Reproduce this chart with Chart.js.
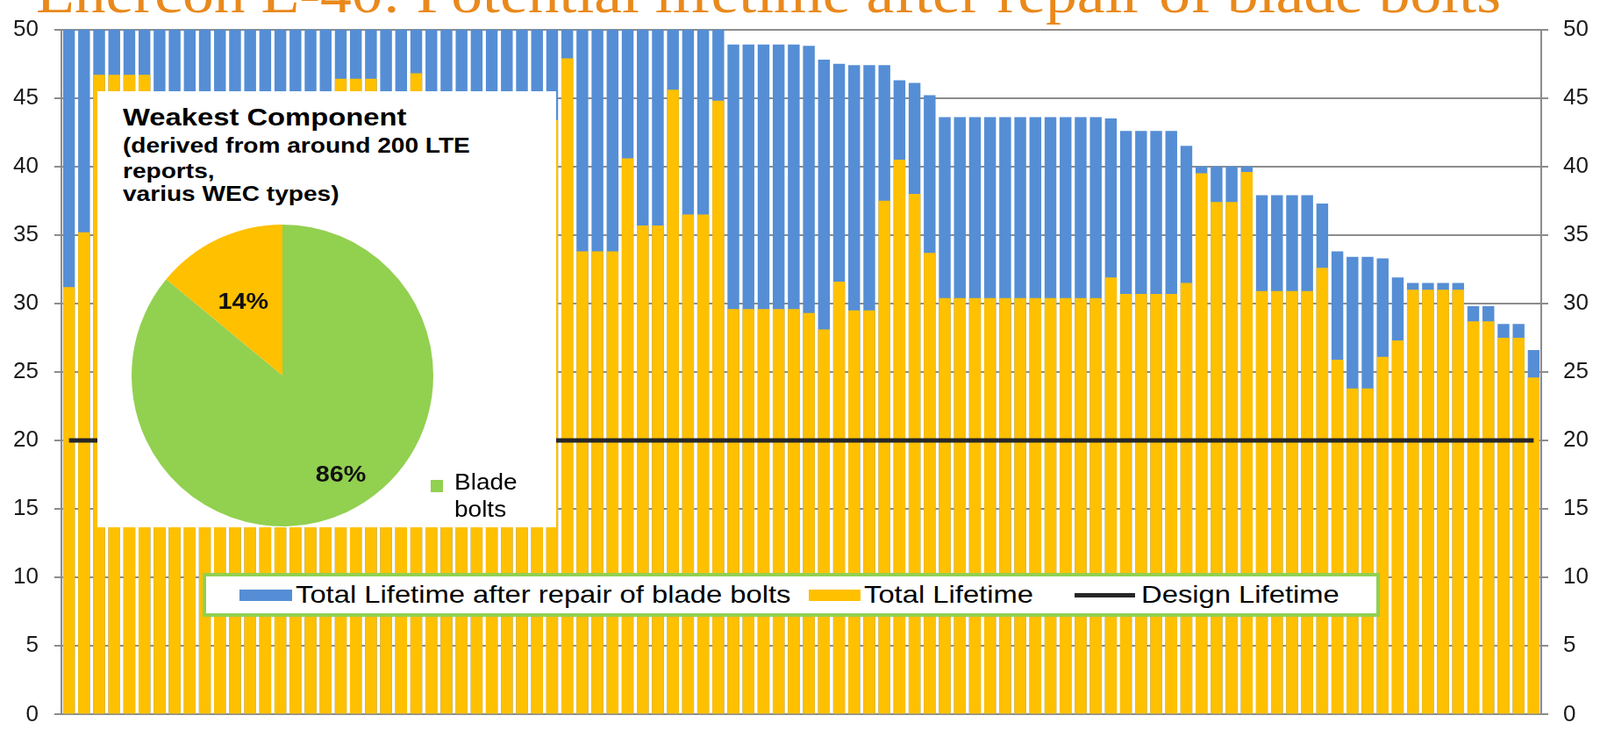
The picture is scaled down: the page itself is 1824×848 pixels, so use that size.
<!DOCTYPE html>
<html lang="en">
<head>
<meta charset="UTF-8">
<title>Enercon E-40: Potential lifetime after repair of blade bolts</title>
<style>
  html, body { margin: 0; padding: 0; background: #fff; overflow: hidden; }
  #wrap { position: relative; width: 1824px; height: 848px; }
  #main { position: absolute; left: 0; top: 0; }

  #title {
    position: absolute; left: 41px; top: -39px;
    font-family: "Liberation Serif", serif; font-size: 64px; line-height: 64px;
    color: #E9891C; white-space: nowrap; transform-origin: 0 0; z-index: 3;
  }

  /* white inset with the pie */
  #inset {
    position: absolute; left: 111px; top: 104px; width: 523px; height: 496px;
    background: #fff; z-index: 2;
  }
  #insetText {
    position: absolute; left: 29px; top: 14px; white-space: nowrap;
    font-family: "Liberation Sans", Arial, sans-serif; font-weight: bold; color: #000;
    transform: scaleX(1.17); transform-origin: 0 0;
  }
  #insetText .big { font-size: 28px; line-height: 32px; }
  #insetText .small { font-size: 24px; line-height: 26px; }
  #insetText .first { line-height: 32px; }
  #pie { position: absolute; left: 39px; top: 151px; }
  #pieLegend {
    position: absolute; left: 380px; top: 430px;
    font-family: "Liberation Sans", Arial, sans-serif; font-size: 25px; line-height: 31px; color: #000;
  }
  #pieLegend .sw { position: absolute; left: 0; top: 13px; width: 14px; height: 14px; background: #92D050; }
  #pieLegend .txt { position: absolute; left: 27px; top: 0; transform: scaleX(1.12); transform-origin: 0 0; }

  /* legend of the bar chart */
  #legend {
    position: absolute; left: 231px; top: 653px; width: 1342px; height: 50px;
    box-sizing: border-box; border: 4px solid #92D050; background: #fff; z-index: 2;
    font-family: "Liberation Sans", Arial, sans-serif; font-size: 28px; color: #000;
  }
  #legend .sw { position: absolute; top: 15px; height: 13px; }
  #legend .ln { position: absolute; top: 19px; height: 5px; background: #262626; }
  #legend .txt { position: absolute; top: 4px; white-space: nowrap; line-height: 34px;
    transform: scaleX(1.17); transform-origin: 0 0; }
</style>
</head>
<body>
<div id="wrap">
  <canvas id="main" width="1824" height="848"></canvas>
  <div id="title">Enercon E-40: Potential lifetime after repair of blade bolts</div>

  <div id="inset">
    <div id="insetText">
      <div class="big">Weakest Component</div>
      <div class="small first">(derived from around 200 LTE</div>
      <div class="small">reports,</div>
      <div class="small">varius WEC types)</div>
    </div>
    <canvas id="pie" width="344" height="346"></canvas>
    <div id="pieLegend"><span class="sw"></span><span class="txt">Blade<br>bolts</span></div>
  </div>

  <div id="legend"></div>
</div>

<script src="https://cdn.jsdelivr.net/npm/chart.js"></script>
<script>
  // Total lifetime after repair of blade bolts (years), one value per turbine report
  const afterRepair = [
    50, 50, 50, 50, 50, 50, 50, 50, 50, 50,
    50, 50, 50, 50, 50, 50, 50, 50, 50, 50,
    50, 50, 50, 50, 50, 50, 50, 50, 50, 50,
    50, 50, 50, 50, 50, 50, 50, 50, 50, 50,
    50, 50, 50, 50, 48.9, 48.9, 48.9, 48.9, 48.9, 48.8,
    47.8, 47.5, 47.4, 47.4, 47.4, 46.3, 46.1, 45.2, 43.6, 43.6,
    43.6, 43.6, 43.6, 43.6, 43.6, 43.6, 43.6, 43.6, 43.6, 43.5,
    42.6, 42.6, 42.6, 42.6, 41.5, 40.0, 40.0, 40.0, 40.0, 37.9,
    37.9, 37.9, 37.9, 37.3, 33.8, 33.4, 33.4, 33.3, 31.9, 31.5,
    31.5, 31.5, 31.5, 29.8, 29.8, 28.5, 28.5, 26.6
  ];
  // Total lifetime (years); values 6-31 sit behind the inset and are estimates
  const totalLifetime = [
    31.2, 35.2, 46.7, 46.7, 46.7, 46.7, 44.0, 44.0, 43.5, 43.5,
    42.8, 42.8, 42.0, 41.5, 41.5, 41.0, 40.5, 40.5, 46.4, 46.4,
    46.4, 43.0, 43.0, 46.8, 42.5, 42.0, 42.0, 41.5, 41.0, 41.0,
    40.5, 40.5, 43.4, 47.9, 33.8, 33.8, 33.8, 40.6, 35.7, 35.7,
    45.6, 36.5, 36.5, 44.8, 29.6, 29.6, 29.6, 29.6, 29.6, 29.3,
    28.1, 31.6, 29.5, 29.5, 37.5, 40.5, 38.0, 33.7, 30.4, 30.4,
    30.4, 30.4, 30.4, 30.4, 30.4, 30.4, 30.4, 30.4, 30.4, 31.9,
    30.7, 30.7, 30.7, 30.7, 31.5, 39.5, 37.4, 37.4, 39.6, 30.9,
    30.9, 30.9, 30.9, 32.6, 25.9, 23.8, 23.8, 26.1, 27.3, 31.0,
    31.0, 31.0, 31.0, 28.7, 28.7, 27.5, 27.5, 24.6
  ];
  const designLifetime = 20;
  const turbines = afterRepair.map((v, i) => 'WEC ' + (i + 1));
  const seriesNames = ['Total Lifetime after repair of blade bolts', 'Total Lifetime', 'Design Lifetime'];

  const pieLabels = ['Blade bolts', 'Other'];
  const pieShares = [86, 14];

  const BLUE = '#558ED5', YELLOW = '#FFC000', GREEN = '#92D050', BLACK = '#262626', GRID = '#8c8c8c';
  const tickFont = { family: 'Liberation Sans', size: 26 };

  new Chart(document.getElementById('main'), {
    type: 'bar',
    data: {
      labels: turbines,
      datasets: [
        {
          type: 'line', label: seriesNames[2], data: turbines.map(() => designLifetime),
          borderColor: BLACK, borderWidth: 5, pointRadius: 0, borderCapStyle: 'butt', order: 0
        },
        { label: seriesNames[1], data: totalLifetime, backgroundColor: YELLOW, grouped: false, order: 1 },
        { label: seriesNames[0], data: afterRepair, backgroundColor: BLUE, grouped: false, order: 2 }
      ]
    },
    options: {
      responsive: false,
      animation: false,
      events: [],
      layout: { padding: { top: 21, bottom: 13, left: 0, right: 0 } },
      datasets: { bar: { categoryPercentage: 1, barPercentage: 0.78 } },
      plugins: { legend: { display: false }, tooltip: { enabled: false } },
      scales: {
        x: {
          grid: { display: false },
          ticks: { display: false },
          border: { color: GRID, width: 2 },
          afterFit(s) { s.height = 0; }
        },
        y: {
          min: 0, max: 50,
          ticks: { stepSize: 5, font: tickFont, color: '#1a1a1a', padding: 18 },
          grid: { color: GRID, lineWidth: 2, tickLength: 8 },
          border: { color: GRID, width: 2 },
          afterFit(s) { s.width = 70; }
        },
        y2: {
          position: 'right', min: 0, max: 50,
          ticks: { stepSize: 5, font: tickFont, color: '#1a1a1a', padding: 17 },
          grid: { drawOnChartArea: false, color: GRID, lineWidth: 2, tickLength: 8 },
          border: { color: GRID, width: 2 },
          afterFit(s) { s.width = 67; }
        }
      }
    }
  });

  // percentage labels on the slices, placed roughly where the slide has them
  const pieLabelPlugin = {
    id: 'pieLabels',
    afterDatasetsDraw(chart) {
      const ctx = chart.ctx;
      const total = pieShares.reduce((a, b) => a + b, 0);
      const radiusFactor = [0.77, 0.55];
      const angleShift = [-5, -3];
      chart.getDatasetMeta(0).data.forEach((arc, i) => {
        const mid = (arc.startAngle + arc.endAngle) / 2 + angleShift[i] * Math.PI / 180;
        const r = arc.outerRadius * radiusFactor[i];
        const x = arc.x + Math.cos(mid) * r;
        const y = arc.y + Math.sin(mid) * r;
        ctx.save();
        ctx.translate(x, y);
        ctx.scale(1.15, 1);
        ctx.font = 'bold 25px "Liberation Sans"';
        ctx.fillStyle = '#111';
        ctx.textAlign = 'center';
        ctx.textBaseline = 'middle';
        ctx.fillText(Math.round(pieShares[i] / total * 100) + '%', 0, 0);
        ctx.restore();
      });
    }
  };

  new Chart(document.getElementById('pie'), {
    type: 'pie',
    data: {
      labels: pieLabels,
      datasets: [{ data: pieShares, backgroundColor: [GREEN, YELLOW], borderWidth: 0, hoverOffset: 0, offset: 0 }]
    },
    options: {
      responsive: false,
      animation: false,
      events: [],
      layout: { padding: 0 },
      plugins: { legend: { display: false }, tooltip: { enabled: false } }
    },
    plugins: [pieLabelPlugin]
  });

  // legend box
  const legend = document.getElementById('legend');
  const legendItems = [
    { kind: 'sw', color: BLUE, x0: 38, w: 60, tx: 102, text: seriesNames[0] },
    { kind: 'sw', color: YELLOW, x0: 687, w: 59, tx: 750, text: seriesNames[1] },
    { kind: 'ln', color: BLACK, x0: 990, w: 69, tx: 1066, text: seriesNames[2] }
  ];
  legendItems.forEach(it => {
    const mark = document.createElement('div');
    mark.className = it.kind;
    mark.style.left = it.x0 + 'px';
    mark.style.width = it.w + 'px';
    mark.style.background = it.color;
    legend.appendChild(mark);
    const t = document.createElement('div');
    t.className = 'txt';
    t.style.left = it.tx + 'px';
    t.textContent = it.text;
    legend.appendChild(t);
  });

  // stretch the title so it spans the same width as in the slide
  const title = document.getElementById('title');
  const tw = title.getBoundingClientRect().width;
  title.style.transform = 'scaleX(' + (1670 / tw) + ')';
</script>
</body>
</html>
